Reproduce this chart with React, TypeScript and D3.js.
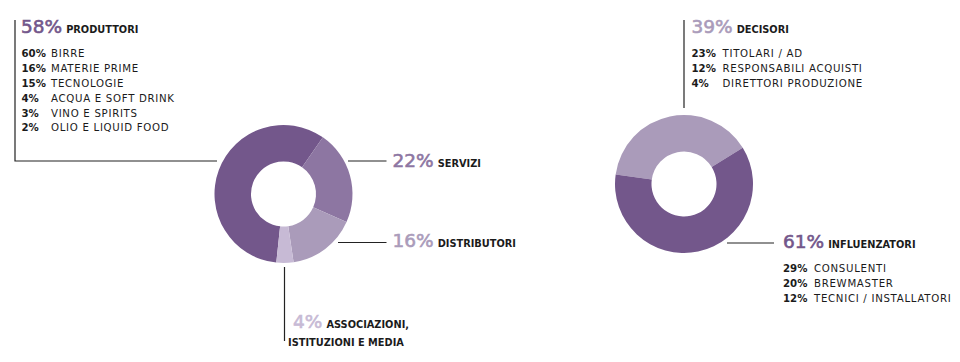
import * as React from 'react';
import { pie, arc } from 'd3';

// left donut: company type
const leftCats = ['PRODUTTORI', 'SERVIZI', 'DISTRIBUTORI', 'ASSOCIAZIONI, ISTITUZIONI E MEDIA'];
const leftValues = [58, 22, 16, 4];
const leftColors = ['#73578b', '#8d76a2', '#aa9bba', '#c7bad5'];

// right donut: role
const rightCats = ['DECISORI', 'INFLUENZATORI'];
const rightValues = [39, 61];
const rightColors = ['#aa9bba', '#73578b'];

// breakdowns
const produttoriPct = ['60%', '16%', '15%', '4%', '3%', '2%'];
const produttoriItems = ['BIRRE', 'MATERIE PRIME', 'TECNOLOGIE', 'ACQUA E SOFT DRINK', 'VINO E SPIRITS', 'OLIO E LIQUID FOOD'];
const decisoriPct = ['23%', '12%', '4%'];
const decisoriItems = ['TITOLARI / AD', 'RESPONSABILI ACQUISTI', 'DIRETTORI PRODUZIONE'];
const influenzatoriPct = ['29%', '20%', '12%'];
const influenzatoriItems = ['CONSULENTI', 'BREWMASTER', 'TECNICI / INSTALLATORI'];

const W = 960, H = 362;
const R_OUT = 69, R_IN = 32.5;
const deg = Math.PI / 180;
const FONT = '"DejaVu Sans", sans-serif';
const INK = '#1b1b1b';

function Donut({ cx, cy, values, colors, start }: { cx: number; cy: number; values: number[]; colors: string[]; start: number }) {
  const slices = pie<number>().sort(null).value(d => d).startAngle(start * deg).endAngle(start * deg + 2 * Math.PI)(values);
  const a = arc<any>().innerRadius(R_IN).outerRadius(R_OUT);
  return (
    <g transform={`translate(${cx},${cy})`}>
      {slices.map((s, i) => <path key={i} d={a(s) ?? ''} fill={colors[i]} />)}
    </g>
  );
}

function Head({ x, y, value, label, color }: { x: number; y: number; value: number; label: string; color: string }) {
  return (
    <text x={x} y={y} fontFamily={FONT}>
      <tspan fontSize={18.5} fill={color} stroke={color} strokeWidth={0.6}>{value}%</tspan>
      <tspan dx={4} fontSize={9.8} fontWeight="bold" fill={INK}>{label}</tspan>
    </text>
  );
}

function Rows({ x, y, dx, pct, items }: { x: number; y: number; dx: number; pct: string[]; items: string[] }) {
  return (
    <g fontFamily={FONT} fontSize={10.2} fill={INK}>
      {pct.map((p, i) => (
        <g key={i}>
          <text x={x} y={y + i * 14.8} fontWeight="bold">{p}</text>
          <text x={x + dx} y={y + i * 14.8} letterSpacing={0.7}>{items[i]}</text>
        </g>
      ))}
    </g>
  );
}

export default function App() {
  const [assoc1, assoc2] = leftCats[3].split(', ');
  return (
    <svg width={W} height={H} viewBox={`0 0 ${W} ${H}`} style={{ position: 'absolute', left: 0, top: 0, background: '#fff' }}>
      <Donut cx={283.5} cy={194} values={leftValues} colors={leftColors} start={186} />
      <Donut cx={684} cy={184} values={rightValues} colors={rightColors} start={278} />

      <g stroke="#222" strokeWidth={1.2} fill="none">
        <polyline points="15,20 15,161 217,161" />
        <line x1={348} y1={161} x2={386.5} y2={161} />
        <line x1={338} y1={242.5} x2={386.5} y2={242.5} />
        <line x1={284.5} y1={267} x2={284.5} y2={341} />
        <line x1={684} y1={20} x2={684} y2={108} />
        <line x1={727} y1={243} x2={774} y2={243} />
      </g>

      <Head x={21} y={33.3} value={leftValues[0]} label={leftCats[0]} color={leftColors[0]} />
      <Rows x={21.5} y={57.3} dx={29.5} pct={produttoriPct} items={produttoriItems} />

      <Head x={392.5} y={166.5} value={leftValues[1]} label={leftCats[1]} color={leftColors[1]} />
      <Head x={392.5} y={247} value={leftValues[2]} label={leftCats[2]} color={leftColors[2]} />
      <Head x={293} y={328} value={leftValues[3]} label={assoc1 + ','} color={leftColors[3]} />
      <text x={288} y={346} fontFamily={FONT} fontSize={9.8} fontWeight="bold" fill={INK}>{assoc2}</text>

      <Head x={691.5} y={33.3} value={rightValues[0]} label={rightCats[0]} color={rightColors[0]} />
      <Rows x={691.5} y={57.3} dx={31} pct={decisoriPct} items={decisoriItems} />

      <Head x={783} y={248.3} value={rightValues[1]} label={rightCats[1]} color={rightColors[1]} />
      <Rows x={783} y={272} dx={31} pct={influenzatoriPct} items={influenzatoriItems} />
    </svg>
  );
}
